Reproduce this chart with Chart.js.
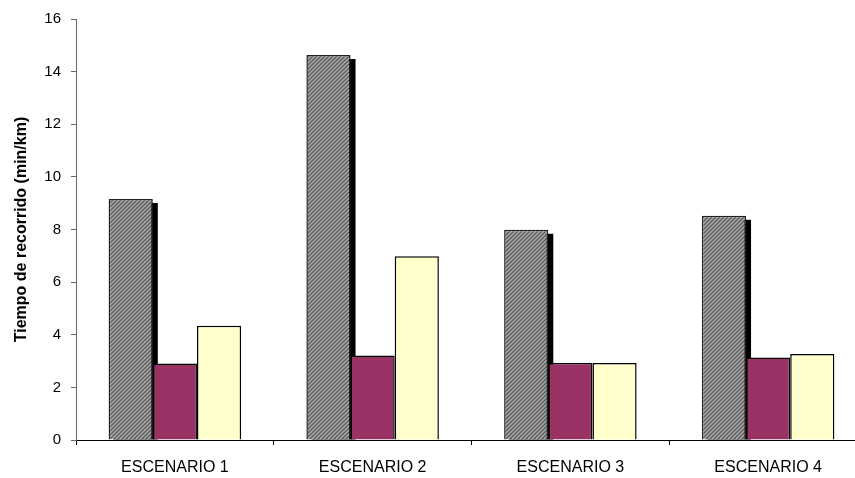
<!DOCTYPE html>
<html>
<head>
<meta charset="utf-8">
<script src="https://cdn.jsdelivr.net/npm/chart.js@4/dist/chart.umd.min.js"></script>
<style>
  html, body { margin: 0; padding: 0; background: #fff; overflow: hidden; }
  #wrap { width: 855px; height: 478px; overflow: hidden; }
  canvas { display: block; }
</style>
</head>
<body>
<div id="wrap"><canvas id="c" width="870" height="478"></canvas></div>
<script>
// Travel time per scenario (min/km)
const categories = ['ESCENARIO 1', 'ESCENARIO 2', 'ESCENARIO 3', 'ESCENARIO 4'];
const serie1 = [9.16, 14.63, 7.99, 8.52];
const serie2 = [2.91, 3.21, 2.93, 3.14];
const serie3 = [4.34, 6.98, 2.93, 3.27];
const yTicks = [0, 2, 4, 6, 8, 10, 12, 14, 16];

// Fine diagonal texture used to fill the first series
function hatchPattern() {
  const p = document.createElement('canvas');
  p.width = 4; p.height = 4;
  const g = p.getContext('2d');
  g.fillStyle = '#858585';
  g.fillRect(0, 0, 4, 4);
  for (let x = 0; x < 4; x++) {
    for (let y = 0; y < 4; y++) {
      const k = (x + y) % 4;
      if (k === 0) { g.fillStyle = '#5a5a5a'; g.fillRect(x, y, 1, 1); }
      if (k === 2) { g.fillStyle = '#ababab'; g.fillRect(x, y, 1, 1); }
    }
  }
  return document.getElementById('c').getContext('2d').createPattern(p, 'repeat');
}

// Drop shadow behind the bars of the first series
const barShadow = {
  id: 'barShadow',
  beforeDatasetsDraw(chart) {
    const meta = chart.getDatasetMeta(0);
    const ctx = chart.ctx;
    ctx.save();
    ctx.fillStyle = '#000';
    meta.data.forEach(bar => {
      const p = bar.getProps(['x', 'y', 'width', 'base'], true);
      const left = p.x - p.width / 2 + 5;
      const top = p.y + 4;
      ctx.fillRect(left, top, p.width, p.base - top);
    });
    ctx.restore();
  }
};

new Chart(document.getElementById('c'), {
  type: 'bar',
  data: {
    labels: categories,
    datasets: [
      { data: serie1, backgroundColor: hatchPattern(), borderColor: '#222', borderWidth: 1.5 },
      { data: serie2, backgroundColor: '#993366', borderColor: '#000', borderWidth: 1.5 },
      { data: serie3, backgroundColor: '#ffffcc', borderColor: '#000', borderWidth: 1.5 }
    ]
  },
  options: {
    responsive: false,
    animation: false,
    devicePixelRatio: 1,
    layout: { padding: { top: 16, right: 3, bottom: 0, left: 0 } },
    plugins: { legend: { display: false }, tooltip: { enabled: false } },
    datasets: { bar: { categoryPercentage: 0.67, barPercentage: 1 } },
    scales: {
      x: {
        grid: { drawOnChartArea: false, drawTicks: true, tickLength: 5, color: '#000', offset: true },
        border: { display: true, color: '#000', width: 1 },
        ticks: { color: '#000', padding: 13, maxRotation: 0, font: { family: '"Liberation Sans", Arial, sans-serif', size: 16 } },
        afterFit(scale) { scale.height = 38; }
      },
      y: {
        min: 0,
        max: 16,
        afterBuildTicks(scale) { scale.ticks = yTicks.map(v => ({ value: v })); },
        grid: { drawOnChartArea: false, drawTicks: true, tickLength: 5, color: '#666' },
        border: { display: true, color: '#666', width: 1 },
        ticks: { color: '#000', padding: 10, font: { family: '"Liberation Sans", Arial, sans-serif', size: 15 } },
        title: {
          display: true,
          text: 'Tiempo de recorrido (min/km)',
          color: '#000',
          padding: { top: 12, bottom: 0 },
          font: { family: '"Liberation Sans", Arial, sans-serif', size: 16, weight: 'bold' }
        },
        afterFit(scale) { scale.width = 76; }
      }
    }
  },
  plugins: [barShadow]
});
</script>
</body>
</html>
